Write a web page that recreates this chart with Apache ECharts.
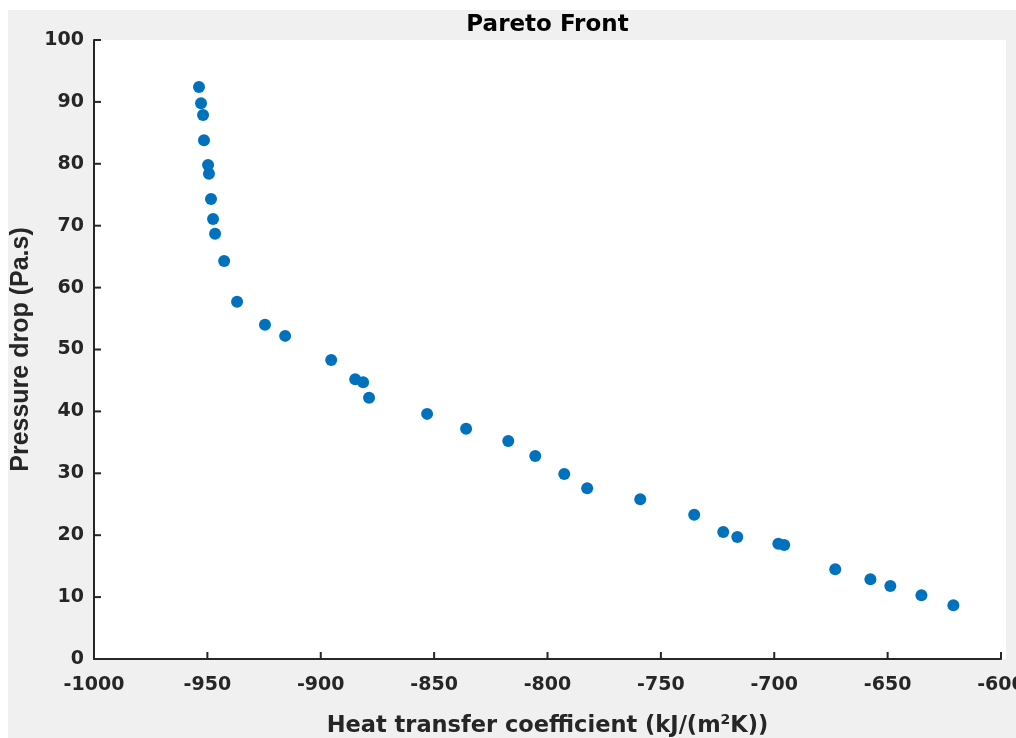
<!DOCTYPE html>
<html>
<head>
<meta charset="utf-8">
<script src="https://cdn.jsdelivr.net/npm/echarts@6/dist/echarts.min.js"></script>
<style>
html,body{margin:0;padding:0;background:#fff;}
#chart{width:1016px;height:738px;}
</style>
</head>
<body>
<div id="chart"></div>
<script>
// Heat transfer coefficient (kJ/(m2K))
var heatTransfer = [-953.7, -952.8, -951.9, -951.5, -949.7, -949.3, -948.4, -947.5, -946.6, -942.6,
  -936.9, -924.6, -915.7, -895.4, -884.8, -881.3, -878.7, -853.1, -835.9, -817.3,
  -805.4, -792.6, -782.5, -759.1, -735.3, -722.5, -716.3, -698.2, -695.6, -673.1,
  -657.6, -648.8, -635.1, -621.0];
// Pressure drop (Pa.s)
var pressureDrop = [92.4, 89.8, 87.9, 83.8, 79.8, 78.4, 74.3, 71.1, 68.7, 64.3,
  57.7, 54.0, 52.2, 48.3, 45.2, 44.7, 42.2, 39.6, 37.2, 35.2,
  32.8, 29.9, 27.6, 25.8, 23.3, 20.5, 19.7, 18.6, 18.4, 14.5,
  12.9, 11.8, 10.3, 8.7];
// Tick values
var xTicks = [-1000, -950, -900, -850, -800, -750, -700, -650, -600];
var yTicks = [0, 10, 20, 30, 40, 50, 60, 70, 80, 90, 100];

var points = heatTransfer.map(function (x, i) { return [x, pressureDrop[i]]; });

var chart = echarts.init(document.getElementById('chart'), null, {renderer: 'canvas'});
var axisColor = '#262626';
var wide = '"DejaVu Sans", Verdana, sans-serif';
var arial = '"Liberation Sans", Arial, sans-serif';
var GRID_L = 94, GRID_R = 15, GRID_T = 40, GRID_B = 79;
var plotW = 1016 - GRID_L - GRID_R;
var xMin = xTicks[0], xMax = xTicks[xTicks.length - 1], xStep = xTicks[1] - xTicks[0];
var yMin = yTicks[0], yMax = yTicks[yTicks.length - 1], yStep = yTicks[1] - yTicks[0];
var TICK_LEN = 7;

// Inward (MATLAB-style) ticks drawn through the axes' own scales.
function tickSeries(values, isX) {
  return {
    type: 'custom',
    silent: true,
    clip: false,
    z: 5,
    data: values.map(function (v) { return [v]; }),
    encode: isX ? {x: 0} : {y: 0},
    renderItem: function (params, api) {
      var v = api.value(0);
      var p = isX ? api.coord([v, yMin]) : api.coord([xMin, v]);
      var end = isX ? [p[0], p[1] - TICK_LEN] : [p[0] + TICK_LEN, p[1]];
      return {
        type: 'line',
        shape: {x1: p[0], y1: p[1], x2: end[0], y2: end[1]},
        style: {stroke: axisColor, lineWidth: 2}
      };
    }
  };
}

chart.setOption({
  backgroundColor: '#ffffff',
  animation: false,
  graphic: [
    {type: 'rect', z: -20, silent: true, shape: {x: 8, y: 10, width: 1008, height: 728}, style: {fill: '#f0f0f0'}},
    {type: 'rect', z: -10, silent: true, shape: {x: 94, y: 40, width: 912, height: 619}, style: {fill: '#ffffff'}}
  ],
  title: {
    text: 'Pareto Front',
    left: GRID_L + plotW / 2 - 5,
    textAlign: 'center',
    top: 9,
    textStyle: {fontFamily: wide, fontWeight: 'bold', fontSize: 23, color: '#000'}
  },
  grid: {left: GRID_L, right: GRID_R, top: GRID_T, bottom: GRID_B, containLabel: false, outerBoundsMode: 'none'},
  xAxis: {
    type: 'value',
    min: xMin, max: xMax, interval: xStep,
    name: '{a|Heat transfer coefficient (kJ/(m}{s|2}{a|K))}',
    nameLocation: 'middle',
    nameGap: 54,
    nameTextStyle: {
      rich: {
        a: {fontFamily: wide, fontWeight: 'bold', fontSize: 22.5, color: axisColor},
        s: {fontFamily: wide, fontWeight: 'bold', fontSize: 14, color: axisColor, verticalAlign: 'top', padding: [0, 0, 12, 0]}
      }
    },
    axisLine: {show: true, lineStyle: {color: axisColor, width: 2}},
    axisTick: {show: false},
    axisLabel: {margin: 17, fontFamily: wide, fontWeight: 'bold', fontSize: 19, color: axisColor,
      formatter: function (v) { return String(v); }},
    splitLine: {show: false}
  },
  yAxis: {
    type: 'value',
    min: yMin, max: yMax, interval: yStep,
    name: 'Pressure drop (Pa.s)',
    nameLocation: 'middle',
    nameGap: 56,
    nameTextStyle: {fontFamily: arial, fontWeight: 'bold', fontSize: 25, color: axisColor},
    axisLine: {show: true, lineStyle: {color: axisColor, width: 2}},
    axisTick: {show: false},
    axisLabel: {margin: 10, fontFamily: wide, fontWeight: 'bold', fontSize: 19, color: axisColor},
    splitLine: {show: false}
  },
  series: [{
    type: 'scatter',
    data: points,
    symbol: 'circle',
    symbolSize: 12,
    z: 3,
    itemStyle: {color: '#0072BD', opacity: 1}
  }, tickSeries(xTicks, true), tickSeries(yTicks, false)]
});
</script>
</body>
</html>
